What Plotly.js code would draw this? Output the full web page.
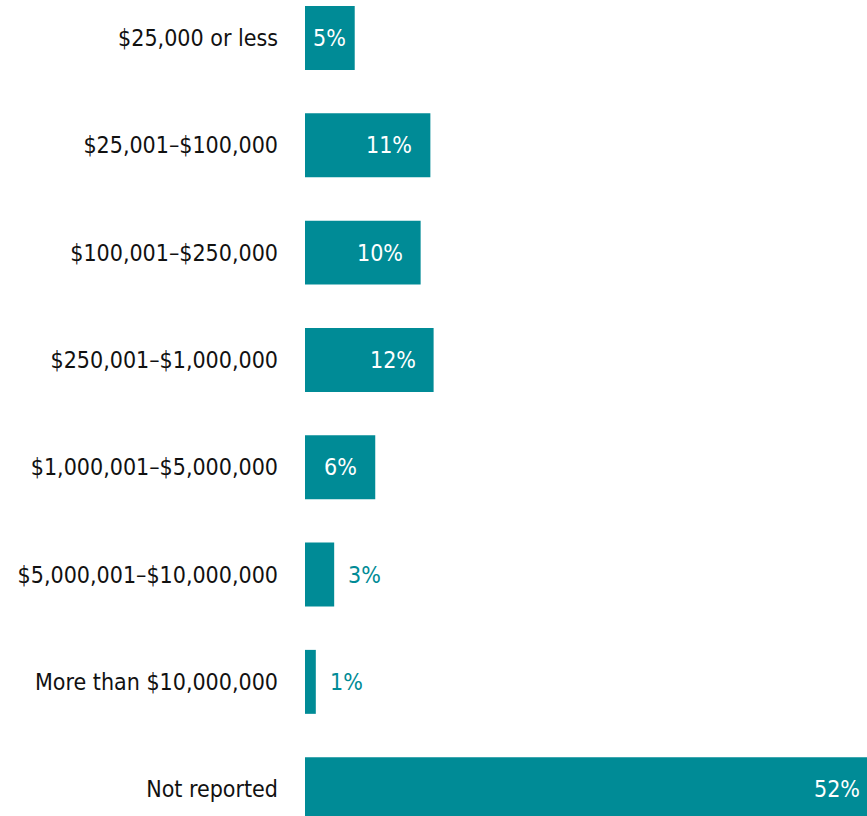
<!DOCTYPE html>
<html>
<head>
<meta charset="utf-8">
<script src="https://cdn.plot.ly/plotly-3.0.1.min.js"></script>
<style>html,body{margin:0;padding:0;background:#fff;}#chart{width:867px;height:816px;}</style>
</head>
<body>
<div id="chart"></div>
<script>
const categories = [
  "$25,000 or less",
  "$25,001–$100,000",
  "$100,001–$250,000",
  "$250,001–$1,000,000",
  "$1,000,001–$5,000,000",
  "$5,000,001–$10,000,000",
  "More than $10,000,000",
  "Not reported"
];
const values = [4.6, 11.6, 10.7, 11.9, 6.5, 2.7, 1.0, 52];
const labels = ["5%", "11%", "10%", "12%", "6%", "3%", "1%", "52%"];

const teal = "#008B96";
const fontFam = "'Liberation Sans Narrow', 'DejaVu Sans Condensed', 'Roboto Condensed', sans-serif";
const xMax = 52;

const annotations = values.map((v, i) => {
  let a = {x: v, y: categories[i], xref: "x", yref: "y", text: labels[i], showarrow: false,
           font: {family: fontFam, size: 23, color: "#ffffff"}};
  if (v < 4) {
    a.xanchor = "left"; a.xshift = 12; a.font.color = teal;
  } else if (v < 5) {
    a.x = v / 2; a.xanchor = "center";
  } else {
    a.xanchor = "right"; a.xshift = v >= xMax ? -5 : -16;
  }
  return a;
});

const trace = {
  type: "bar", orientation: "h",
  x: values, y: categories,
  marker: {color: teal},
  hoverinfo: "none"
};

const layout = {
  width: 867, height: 816,
  margin: {l: 305, r: 0, t: 0, b: 0, pad: 0},
  paper_bgcolor: "#fff", plot_bgcolor: "#fff",
  bargap: 0.404,
  showlegend: false,
  xaxis: {range: [0, xMax], visible: false, fixedrange: true},
  yaxis: {type: "category", range: [7.25, -0.354], showgrid: false, zeroline: false, showline: false,
          ticks: "", ticklabelstandoff: 26,
          tickfont: {family: fontFam, size: 23, color: "#111"}},
  annotations: annotations
};

Plotly.newPlot("chart", [trace], layout, {displayModeBar: false, staticPlot: true});
</script>
</body>
</html>
